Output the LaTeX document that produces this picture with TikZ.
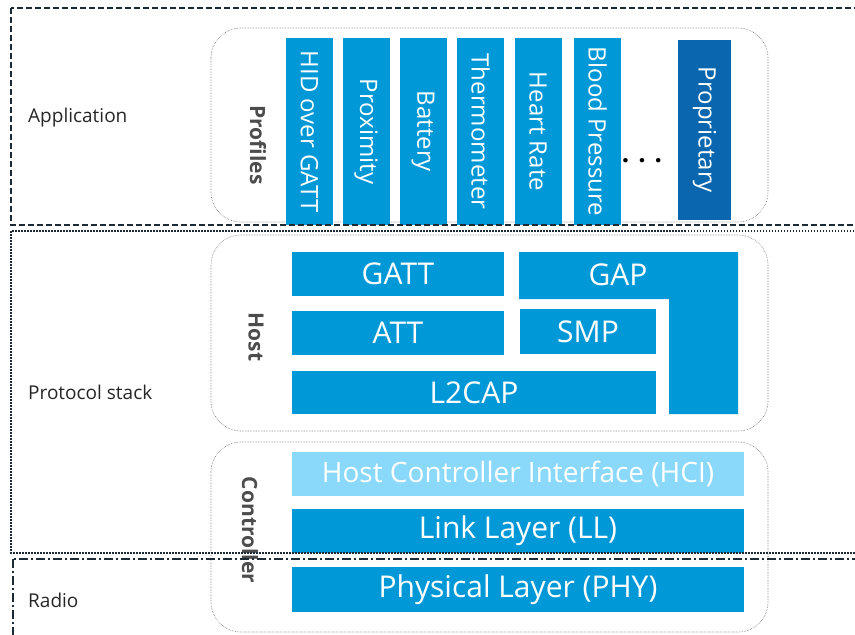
\documentclass[tikz,border=0pt]{standalone}
\usepackage{fontspec}
\setmainfont{Open Sans}
\definecolor{bleblue}{HTML}{0098D6}
\definecolor{bledark}{HTML}{0A66AE}
\definecolor{blelight}{HTML}{8AD8FA}
\definecolor{frameclr}{HTML}{1B2A35}
\begin{document}
\begin{tikzpicture}[x=1pt,y=-1pt,
	blk/.style={fill=bleblue,text=white,inner sep=0pt,font=\fontsize{30}{30}\selectfont},
	prof/.style={blk,rotate=-90,minimum width=187,minimum height=47,font=\fontsize{24}{24}\selectfont},
	group/.style={draw=black!55,densely dotted,line width=0.6pt,rounded corners=30},
	side/.style={rotate=-90,text=black!70,font=\fontsize{21}{21}\selectfont\bfseries},
	region/.style={anchor=west,inner sep=0pt,text=black!85,font=\fontsize{19}{19}\selectfont},
	frame/.style={draw=frameclr,line width=2pt}]
	\clip (0,0) rectangle (855,635);
	\draw[group] (211,28) rectangle (768,222);
	\draw[group] (211,235) rectangle (768,431);
	\draw[group] (211,442) rectangle (768,632);
	\node[region] (app) at (28,118) {Application};
	\node[region] (stack) at (28,392) {Protocol stack};
	\node[region] (radio) at (28,600) {Radio};
	\node[side] (profiles) at (258,145) {Profiles};
	\node[side] (host) at (256,337) {Host};
	\node[side] (controller) at (250,530) {Controller};
	\foreach \xc/\name/\txt in {309.5/hid/HID over GATT,366/prox/Proximity,423/batt/Battery,480.5/thermo/Thermometer,538/heart/Heart Rate,597.5/blood/Blood Pressure}
		\node[prof] (\name) at (\xc,131.5) {\txt};
	\node[font=\fontsize{26}{26}\selectfont\bfseries] (dots) at (642,161) {. . .};
	\node[prof,fill=bledark,minimum width=180,minimum height=53] (propr) at (704.5,130) {Proprietary};
	\node[blk,minimum width=212,minimum height=44] (gatt) at (398,274) {GATT};
	\node[blk,minimum width=212,minimum height=44] (att) at (398,333) {ATT};
	\node[blk,minimum width=364,minimum height=43] (l2cap) at (474,392.5) {L2CAP};
	\node[blk,minimum width=136,minimum height=45] (smp) at (588,331.5) {SMP};
	\fill[bleblue] (519,252) -- (738,252) -- (738,414) -- (669,414) -- (669,299) -- (519,299) -- cycle;
	\node[text=white,font=\fontsize{30}{30}\selectfont] (gap) at (618,275) {GAP};
	\node[blk,fill=blelight,minimum width=452,minimum height=44,font=\fontsize{28}{28}\selectfont] (hci) at (518,474) {Host Controller Interface (HCI)};
	\node[blk,minimum width=452,minimum height=44] (ll) at (518,531) {Link Layer (LL)};
	\node[blk,minimum width=452,minimum height=45] (phy) at (518,589.5) {Physical Layer (PHY)};
	\draw[frame,dash pattern=on 6pt off 3pt] (11,8) rectangle (880,225);
	\draw[frame,dash pattern=on 1.5pt off 1.5pt] (11,231) rectangle (880,553);
	\draw[frame,dash pattern=on 9pt off 3pt on 2pt off 3pt] (13,559) rectangle (880,660);
\end{tikzpicture}
\end{document}
